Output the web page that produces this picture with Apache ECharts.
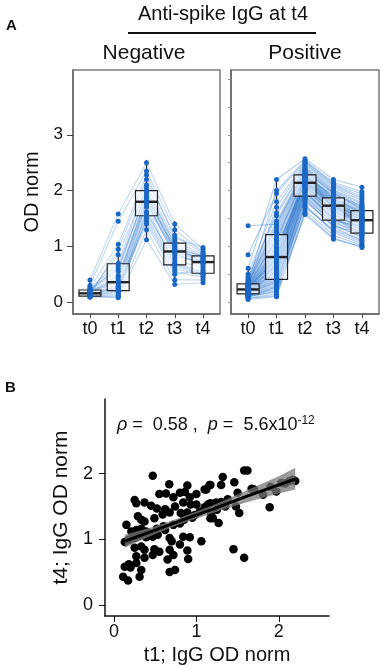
<!DOCTYPE html>
<html>
<head>
<meta charset="utf-8">
<script src="https://cdn.jsdelivr.net/npm/echarts@6/dist/echarts.min.js"></script>
<style>
  html, body { margin: 0; padding: 0; background: #fff; }
  #main { width: 383px; height: 669px; }
</style>
</head>
<body>
<div id="main"></div>
<script>
// time points
const timeLabels = ['t0', 't1', 't2', 't3', 't4'];

// box stats: [min, Q1, median, Q3, max]
const negBox = [
  [0.08, 0.11, 0.16, 0.22, 0.40],
  [0.08, 0.21, 0.36, 0.69, 1.04],
  [1.10, 1.55, 1.80, 2.00, 2.55],
  [0.31, 0.67, 0.91, 1.06, 1.45],
  [0.33, 0.52, 0.72, 0.83, 0.98]
];
const posBox = [
  [0.05, 0.15, 0.23, 0.33, 0.61],
  [0.10, 0.41, 0.81, 1.21, 2.20],
  [1.57, 1.90, 2.14, 2.28, 2.57],
  [1.13, 1.47, 1.73, 1.87, 2.20],
  [0.97, 1.24, 1.47, 1.64, 2.06]
];

// subject trajectories t0..t4 (estimated)
const negSubjects = [
  [0.10, 0.12, 1.55, 0.65, 0.50], [0.12, 0.20, 1.62, 0.70, 0.55],
  [0.15, 0.25, 1.75, 0.85, 0.70], [0.18, 0.35, 1.80, 0.90, 0.72],
  [0.20, 0.40, 1.90, 0.95, 0.78], [0.22, 0.55, 2.00, 1.05, 0.82],
  [0.25, 0.70, 2.10, 1.10, 0.85], [0.40, 1.58, 2.50, 1.40, 0.95],
  [0.30, 1.45, 2.35, 1.30, 0.90], [0.14, 0.95, 2.20, 1.20, 0.88],
  [0.11, 0.08, 1.12, 0.32, 0.35], [0.09, 0.10, 1.30, 0.40, 0.40],
  [0.16, 0.30, 1.45, 0.55, 0.45], [0.13, 0.22, 1.60, 0.75, 0.62],
  [0.17, 0.45, 1.85, 1.00, 0.80], [0.21, 0.65, 1.95, 0.92, 0.75],
  [0.19, 0.85, 2.05, 1.02, 0.70], [0.12, 0.18, 1.70, 0.68, 0.52],
  [0.15, 0.28, 1.78, 0.88, 0.66], [0.23, 0.60, 1.98, 0.97, 0.83],
  [0.10, 0.15, 1.50, 0.60, 0.48], [0.18, 0.38, 1.82, 0.80, 0.74],
  [0.26, 1.04, 2.28, 1.15, 0.98], [0.14, 0.26, 1.40, 0.50, 0.58],
  [0.20, 0.48, 1.88, 0.93, 0.77]
];
const posSubjects = [
  [0.05, 0.10, 1.60, 1.15, 0.98], [0.08, 0.15, 1.75, 1.25, 1.05],
  [0.10, 0.20, 1.85, 1.35, 1.10], [0.12, 0.25, 1.90, 1.40, 1.15],
  [0.13, 0.30, 1.92, 1.45, 1.20], [0.15, 0.38, 1.95, 1.48, 1.25],
  [0.16, 0.42, 2.00, 1.50, 1.28], [0.18, 0.50, 2.05, 1.55, 1.30],
  [0.19, 0.55, 2.08, 1.60, 1.35], [0.20, 0.60, 2.10, 1.62, 1.38],
  [0.21, 0.65, 2.12, 1.65, 1.40], [0.22, 0.70, 2.14, 1.70, 1.45],
  [0.23, 0.75, 2.15, 1.72, 1.47], [0.24, 0.80, 2.15, 1.73, 1.48],
  [0.25, 0.82, 2.16, 1.75, 1.50], [0.26, 0.88, 2.18, 1.78, 1.52],
  [0.27, 0.92, 2.20, 1.80, 1.55], [0.28, 0.98, 2.22, 1.82, 1.58],
  [0.30, 1.05, 2.25, 1.85, 1.60], [0.32, 1.10, 2.28, 1.88, 1.62],
  [0.33, 1.20, 2.30, 1.90, 1.65], [0.35, 1.30, 2.35, 1.95, 1.70],
  [0.40, 1.45, 2.40, 2.00, 1.75], [0.45, 1.60, 2.45, 2.05, 1.82],
  [0.50, 1.80, 2.50, 2.10, 1.90], [0.61, 2.20, 2.57, 2.20, 2.06],
  [0.85, 1.95, 2.52, 2.15, 1.98], [1.37, 1.40, 2.38, 1.98, 1.72],
  [0.14, 0.35, 1.70, 1.30, 1.12], [0.17, 0.45, 1.98, 1.52, 1.22],
  [0.09, 0.28, 2.02, 1.58, 1.32], [0.22, 0.62, 2.30, 1.68, 1.44],
  [0.26, 0.72, 2.18, 1.76, 1.35], [0.29, 1.00, 2.12, 1.70, 1.58],
  [0.31, 1.15, 2.26, 1.92, 1.68], [0.20, 0.52, 2.06, 1.62, 1.42],
  [0.24, 0.85, 2.10, 1.66, 1.50], [0.11, 0.18, 1.57, 1.13, 1.00],
  [0.35, 1.25, 2.32, 1.86, 1.60], [0.18, 0.40, 1.88, 1.42, 1.26],
  [0.42, 1.55, 2.42, 2.02, 1.78], [0.27, 0.95, 2.20, 1.78, 1.46],
  [0.16, 0.58, 2.14, 1.74, 1.52], [0.23, 0.78, 2.24, 1.84, 1.56],
  [0.38, 1.35, 2.36, 1.96, 1.66], [0.07, 0.12, 1.65, 1.20, 1.02],
  [0.12, 0.22, 1.80, 1.38, 1.18], [0.14, 0.32, 1.96, 1.50, 1.30],
  [0.19, 0.47, 2.04, 1.56, 1.34], [0.21, 0.68, 2.16, 1.72, 1.40],
  [0.25, 0.90, 2.22, 1.80, 1.54], [0.29, 1.12, 2.28, 1.86, 1.62],
  [0.33, 1.40, 2.34, 1.94, 1.72], [0.17, 0.36, 1.84, 1.36, 1.24],
  [0.23, 0.66, 2.08, 1.64, 1.44], [0.30, 1.70, 2.48, 2.08, 1.86],
  [0.13, 0.27, 1.72, 1.28, 1.08], [0.28, 0.76, 2.26, 1.82, 1.50],
  [0.20, 0.56, 2.00, 1.46, 1.36], [0.36, 2.00, 2.54, 2.12, 1.94]
];

// panel B: t1 vs t4
const corrX = [0.47, 0.67, 0.89, 1.17, 0.55, 0.63, 0.72, 0.80, 0.86, 0.92, 1.00, 1.10,
  0.25, 0.27, 0.37, 0.45, 0.52, 0.62, 0.74, 0.84, 0.93, 1.00, 1.04, 1.10, 1.17,
  0.29, 0.33, 0.37, 0.49, 0.59, 0.675, 0.81, 0.89, 0.98, 1.17,
  0.15, 0.21, 0.27, 0.33, 0.39, 0.52, 0.62, 0.72, 0.80, 0.53,
  0.17, 0.25, 0.39, 0.47, 0.675, 0.70, 0.84, 0.92, 1.06,
  0.25, 0.33, 0.37, 0.49, 0.55, 0.675, 0.80, 0.89,
  0.27, 0.37, 0.47, 0.65, 0.72, 0.90,
  0.13, 0.18, 0.20, 0.27, 0.33, 0.74, 0.675, 0.11, 0.17, 0.31,
  1.58, 1.62, 1.16, 1.32, 1.30, 1.46, 1.12, 1.50, 1.67, 1.97, 2.03, 2.17, 2.13,
  1.14, 1.24, 1.30, 1.38, 1.48, 1.52, 1.89, 1.18, 1.20, 1.27, 1.45, 1.58, 1.81, 1.70,
  0.13, 0.20, 0.30, 0.42, 0.60, 0.85, 0.95, 1.25, 1.35, 1.90, 2.08, 2.20];
const corrY = [1.97, 1.84, 1.82, 1.83, 1.69, 1.70, 1.64, 1.71, 1.72, 1.64, 1.69, 1.76,
  1.60, 1.55, 1.56, 1.51, 1.47, 1.46, 1.50, 1.56, 1.53, 1.53, 1.42, 1.49, 1.55,
  1.35, 1.30, 1.27, 1.32, 1.38, 1.41, 1.40, 1.41, 1.37, 1.32,
  1.22, 1.12, 1.14, 1.16, 1.12, 1.16, 1.14, 1.22, 1.24, 1.07,
  0.99, 1.02, 1.03, 1.04, 1.02, 0.97, 1.04, 1.03, 0.97,
  0.87, 0.89, 0.84, 0.85, 0.81, 0.84, 0.92, 0.83,
  0.74, 0.72, 0.76, 0.69, 0.76, 0.70,
  0.58, 0.62, 0.57, 0.64, 0.53, 0.53, 0.50, 0.43, 0.37, 0.43,
  2.05, 2.05, 1.83, 1.95, 1.83, 1.87, 1.76, 1.71, 1.77, 1.73, 1.86, 1.91, 1.89,
  1.53, 1.56, 1.57, 1.61, 1.50, 1.40, 1.49, 1.40, 1.32, 1.25, 0.85, 0.72, 1.68, 1.76,
  0.96, 1.00, 1.05, 1.10, 1.20, 1.30, 1.33, 1.45, 1.50, 1.80, 1.85, 1.89];

// linear fit and its confidence band
const fitX = [0.13, 0.5, 0.8, 1.2, 1.6, 2.0, 2.2];
const fitY = [0.97, 1.14, 1.28, 1.46, 1.65, 1.83, 1.92];
const fitLo = [0.87, 1.08, 1.23, 1.40, 1.56, 1.70, 1.76];
const fitHi = [1.07, 1.20, 1.33, 1.52, 1.74, 1.96, 2.09];

const chart = echarts.init(document.getElementById('main'));
const FONT = 'Liberation Sans, Arial, sans-serif';

function boxRender(params, api) {
  const x = api.value(0);
  const pMin = api.coord([x, api.value(1)]);
  const pQ1 = api.coord([x, api.value(2)]);
  const pMed = api.coord([x, api.value(3)]);
  const pQ3 = api.coord([x, api.value(4)]);
  const pMax = api.coord([x, api.value(5)]);
  const hw = 11;
  const stroke = '#222';
  return {
    type: 'group',
    children: [
      { type: 'line', shape: { x1: pMax[0], y1: pMax[1], x2: pQ3[0], y2: pQ3[1] }, style: { stroke: stroke, lineWidth: 1.2 } },
      { type: 'line', shape: { x1: pQ1[0], y1: pQ1[1], x2: pMin[0], y2: pMin[1] }, style: { stroke: stroke, lineWidth: 1.2 } },
      { type: 'rect', shape: { x: pQ3[0] - hw, y: pQ3[1], width: hw * 2, height: pQ1[1] - pQ3[1] },
        style: { fill: 'rgba(255,255,255,0.55)', stroke: stroke, lineWidth: 1.2 } },
      { type: 'line', shape: { x1: pMed[0] - hw, y1: pMed[1], x2: pMed[0] + hw, y2: pMed[1] }, style: { stroke: stroke, lineWidth: 2.4 } }
    ]
  };
}

function bandRender(params, api) {
  const pts = [];
  for (let i = 0; i < fitX.length; i++) pts.push(api.coord([fitX[i], fitHi[i]]));
  for (let i = fitX.length - 1; i >= 0; i--) pts.push(api.coord([fitX[i], fitLo[i]]));
  return { type: 'polygon', shape: { points: pts }, style: { fill: 'rgba(120,120,120,0.75)' } };
}

function facetSeries(subjects, box, idx, lineAlpha) {
  const out = [];
  subjects.forEach(function (s) {
    out.push({
      type: 'line', xAxisIndex: idx, yAxisIndex: idx, silent: true, symbol: 'none', z: 1,
      data: s.map(function (v, i) { return [i, v]; }),
      lineStyle: { color: 'rgba(60,130,210,' + lineAlpha + ')', width: 1.2 }
    });
  });
  out.push({
    type: 'custom', xAxisIndex: idx, yAxisIndex: idx, z: 3, renderItem: boxRender,
    data: box.map(function (b, i) { return [i].concat(b); })
  });
  const pts = [];
  subjects.forEach(function (s) { s.forEach(function (v, i) { pts.push([i, v]); }); });
  out.push({
    type: 'scatter', xAxisIndex: idx, yAxisIndex: idx, z: 4, symbolSize: 5,
    itemStyle: { color: '#1a66c4', opacity: 1 }, data: pts
  });
  return out;
}

const frame = { show: true, borderColor: '#7a7a7a', borderWidth: 1.5, backgroundColor: '#fff' };

function facetX(idx) {
  return {
    gridIndex: idx, type: 'value', min: -0.6, max: 4.6,
    axisLine: { show: true, onZero: false, lineStyle: { color: '#666', width: 1.5 } },
    axisTick: { show: true, length: 4, customValues: [0, 1, 2, 3, 4], lineStyle: { color: '#444' } },
    axisLabel: { customValues: [0, 1, 2, 3, 4], margin: 6, fontSize: 18, color: '#111', fontFamily: FONT,
      formatter: function (v) { return timeLabels[Math.round(v)]; } },
    splitLine: { show: false }
  };
}

function facetY(idx, labels) {
  return {
    gridIndex: idx, type: 'value', min: -0.21, max: 4.16,
    name: labels ? 'OD norm' : '', nameLocation: 'middle', nameGap: 31,
    nameTextStyle: { fontSize: 20, color: '#111', fontFamily: FONT },
    axisLine: { show: true, onZero: false, lineStyle: { color: '#666', width: 1.5 } },
    axisTick: { show: true, length: labels ? 6 : 3, customValues: labels ? [0, 1, 2, 3] : [0, 0.5, 1, 1.5, 2, 2.5, 3, 3.5, 4],
      lineStyle: { color: labels ? '#444' : '#999' } },
    axisLabel: { show: labels, customValues: [0, 1, 2, 3], margin: 10, fontSize: 17, color: '#111', fontFamily: FONT },
    splitLine: { show: false }
  };
}

const option = {
  backgroundColor: '#fff',
  animation: false,
  textStyle: { fontFamily: FONT },
  grid: [
    Object.assign({ left: 73, right: 163, top: 70, bottom: 355 }, frame),
    Object.assign({ left: 231, right: 4, top: 70, bottom: 355 }, frame),
    { left: 105, right: 54, top: 399, bottom: 53 }
  ],
  xAxis: [
    facetX(0),
    facetX(1),
    {
      gridIndex: 2, type: 'value', min: -0.11, max: 2.61,
      name: 't1; IgG OD norm', nameLocation: 'middle', nameGap: 29,
      nameTextStyle: { fontSize: 20, color: '#111', fontFamily: FONT },
      axisLine: { onZero: false, lineStyle: { color: '#111', width: 1.5 } },
      axisTick: { length: 6, customValues: [0, 1, 2], lineStyle: { color: '#111' } },
      axisLabel: { customValues: [0, 1, 2], margin: 7, fontSize: 18, color: '#111', fontFamily: FONT },
      splitLine: { show: false }
    }
  ],
  yAxis: [
    facetY(0, true),
    facetY(1, false),
    {
      gridIndex: 2, type: 'value', min: -0.17, max: 3.14,
      name: 't4; IgG OD norm', nameLocation: 'middle', nameGap: 32,
      nameTextStyle: { fontSize: 21, color: '#111', fontFamily: FONT },
      axisLine: { show: true, onZero: false, lineStyle: { color: '#111', width: 1.5 } },
      axisTick: { show: true, length: 6, customValues: [0, 1, 2], lineStyle: { color: '#111' } },
      axisLabel: { customValues: [0, 1, 2], margin: 12, fontSize: 18, color: '#111', fontFamily: FONT },
      splitLine: { show: false }
    }
  ],
  graphic: [
    { type: 'text', left: 6, top: 18, style: { text: 'A', font: 'bold 15px ' + FONT, fill: '#111' } },
    { type: 'text', left: 5, top: 380, style: { text: 'B', font: 'bold 15px ' + FONT, fill: '#111' } },
    { type: 'text', x: 223, y: 14, style: { text: 'Anti-spike IgG at t4', font: '20px ' + FONT, fill: '#111', align: 'center', verticalAlign: 'middle' } },
    { type: 'line', shape: { x1: 128, y1: 33, x2: 316, y2: 33 }, style: { stroke: '#111', lineWidth: 2 } },
    { type: 'text', x: 144, y: 53, style: { text: 'Negative', font: '21px ' + FONT, fill: '#111', align: 'center', verticalAlign: 'middle' } },
    { type: 'text', x: 305, y: 53, style: { text: 'Positive', font: '21px ' + FONT, fill: '#111', align: 'center', verticalAlign: 'middle' } },
    {
      type: 'text', x: 117, y: 425,
      style: {
        text: '{i|ρ} =  0.58 ,  {i|p} =  5.6x10{s|-12}',
        font: '18px ' + FONT, fill: '#111', verticalAlign: 'middle',
        rich: {
          i: { fontStyle: 'italic', fontSize: 18, fontFamily: FONT },
          s: { fontSize: 12, fontFamily: FONT, verticalAlign: 'top', padding: [0, 0, 8, 0] }
        }
      }
    }
  ],
  series: [].concat(
    facetSeries(negSubjects, negBox, 0, 0.3),
    facetSeries(posSubjects, posBox, 1, 0.38),
    [
      {
        type: 'scatter', xAxisIndex: 2, yAxisIndex: 2, symbolSize: 8.5, z: 2,
        itemStyle: { color: '#000', opacity: 1 },
        data: corrX.map(function (x, i) { return [x, corrY[i]]; })
      },
      { type: 'custom', xAxisIndex: 2, yAxisIndex: 2, z: 3, renderItem: bandRender, data: [[0, 0]], silent: true },
      {
        type: 'line', xAxisIndex: 2, yAxisIndex: 2, z: 4, symbol: 'none', silent: true,
        lineStyle: { color: '#000', width: 3 },
        data: fitX.map(function (x, i) { return [x, fitY[i]]; })
      }
    ]
  )
};

chart.setOption(option);
</script>
</body>
</html>
